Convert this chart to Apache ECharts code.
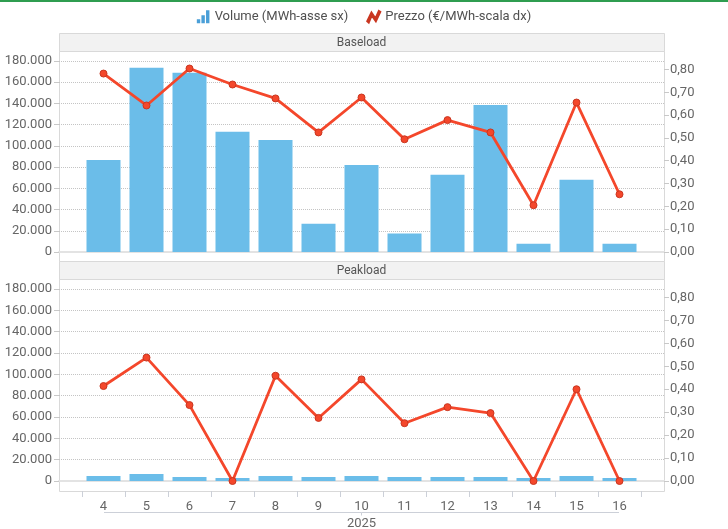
<!DOCTYPE html>
<html>
<head>
<meta charset="utf-8">
<script src="https://cdn.jsdelivr.net/npm/echarts@6/dist/echarts.min.js"></script>
<style>
html,body{margin:0;padding:0;background:#fff;}
#chart{width:728px;height:529px;}
</style>
</head>
<body>
<div id="chart"></div>
<script>
// ---- data ----
const months = ['4','5','6','7','8','9','10','11','12','13','14','15','16'];
const yearLabel = '2025';
const seriesNames = ['Volume (MWh-asse sx)', 'Prezzo (€/MWh-scala dx)'];
const panelTitles = ['Baseload', 'Peakload'];
const baseVolume = [86800, 173700, 168900, 113400, 105600, 26600, 82100, 17500, 72700, 138600, 7800, 68000, 7800];
const basePrice  = [0.782, 0.642, 0.804, 0.734, 0.673, 0.524, 0.677, 0.494, 0.578, 0.524, 0.205, 0.655, 0.253];
const peakVolume = [4700, 6600, 3800, 2800, 4700, 3800, 4700, 3800, 3800, 3800, 2800, 4700, 2800];
const peakPrice  = [0.414, 0.538, 0.331, 0, 0.459, 0.275, 0.443, 0.252, 0.322, 0.296, 0, 0.400, 0];
const volumeTicks = [0, 20000, 40000, 60000, 80000, 100000, 120000, 140000, 160000, 180000];
const priceTicks  = [0, 0.1, 0.2, 0.3, 0.4, 0.5, 0.6, 0.7, 0.8];

// ---- styles ----
const FONT = 'Roboto';
const BAR = '#6bbde9';
const RED = '#f4472b';
const LABEL = '#666666';
const BORDER = '#d9d9d9';
const PRICE_MAX = 0.837;
const VOL_MAX = 180000;

const fmtVol = v => String(Math.round(v)).replace(/\B(?=(\d{3})+(?!\d))/g, '.');
const fmtPrice = v => v.toFixed(2).replace('.', ',');

const chart = echarts.init(document.getElementById('chart'), null, {renderer: 'canvas'});

const panels = [
  {outer: {left: 59, right: 64, top: 61, bottom: 277}, inner: {left: 82, right: 87, top: 61, bottom: 277}},
  {outer: {left: 59, right: 64, top: 289, bottom: 48}, inner: {left: 82, right: 87, top: 289, bottom: 48}}
];

const grid = [];
const xAxis = [];
const yAxis = [];
panels.forEach((p, i) => {
  grid.push(Object.assign({containLabel: false, outerBoundsMode: 'none'}, p.outer));
  grid.push(Object.assign({containLabel: false, outerBoundsMode: 'none'}, p.inner));
  const go = i * 2, gi = i * 2 + 1;
  // outer x (only draws zero line)
  xAxis.push({type: 'value', gridIndex: go, min: 0, max: 1, axisLine: {show: true, lineStyle: {color: '#e3e3e3', width: 2}},
    axisTick: {show: false}, axisLabel: {show: false}, splitLine: {show: false}});
  // inner category axis
  const isBottom = i === 1;
  xAxis.push({type: 'category', gridIndex: gi, data: months, boundaryGap: true,
    show: true, offset: isBottom ? 10 : 0,
    axisLine: {show: false, onZero: false},
    axisTick: {show: isBottom, length: 6, lineStyle: {color: '#ccd0d8'}},
    axisLabel: {show: isBottom, color: LABEL, fontFamily: FONT, fontSize: 13, margin: 9},
    name: isBottom ? yearLabel : '', nameLocation: 'middle', nameGap: 26,
    nameTextStyle: {color: LABEL, fontFamily: FONT, fontSize: 13},
    splitLine: {show: false}});
  // outer y axes
  yAxis.push({type: 'value', gridIndex: go, position: 'left', min: 0, max: VOL_MAX, interval: 20000,
    axisLine: {show: false},
    axisTick: {show: true, length: 5, lineStyle: {color: '#c8c8c8'}, customValues: volumeTicks},
    axisLabel: {color: LABEL, fontFamily: FONT, fontSize: 13, margin: 7, formatter: fmtVol, customValues: volumeTicks},
    splitLine: {show: true, lineStyle: {type: [1, 1], color: '#c4c4c4', width: 1}}});
  yAxis.push({type: 'value', gridIndex: go, position: 'right', min: 0, max: PRICE_MAX,
    axisLine: {show: false},
    axisTick: {show: true, length: 5, lineStyle: {color: '#c8c8c8'}, customValues: priceTicks},
    axisLabel: {color: LABEL, fontFamily: FONT, fontSize: 13, margin: 6, formatter: fmtPrice, customValues: priceTicks},
    splitLine: {show: false}});
  // inner hidden y axes
  yAxis.push({type: 'value', gridIndex: gi, min: 0, max: VOL_MAX, show: false, splitLine: {show: false}});
  yAxis.push({type: 'value', gridIndex: gi, min: 0, max: PRICE_MAX, show: false, splitLine: {show: false}});
});

function barSeries(data, idx) {
  return {name: seriesNames[0], type: 'bar', xAxisIndex: idx * 2 + 1, yAxisIndex: idx * 4 + 2,
    data: data, barWidth: 34, itemStyle: {color: BAR}, z: 2};
}
function lineSeries(data, idx) {
  return {name: seriesNames[1], type: 'line', xAxisIndex: idx * 2 + 1, yAxisIndex: idx * 4 + 3,
    data: data, symbol: 'circle', symbolSize: 7, showSymbol: true,
    lineStyle: {color: RED, width: 2.8},
    itemStyle: {color: RED, borderColor: '#c93620', borderWidth: 1}, z: 3};
}

function panelGraphics(top, plotTop, plotBottom, title) {
  return [
    {type: 'rect', shape: {x: 59.5, y: top + 0.5, width: 605, height: plotTop - top},
      style: {fill: '#f2f2f2', stroke: BORDER, lineWidth: 1}, z: 0},
    {type: 'text', x: 361.5, y: (top + plotTop) / 2 + 1,
      style: {text: title, fill: '#555555', font: '12px ' + FONT, align: 'center', verticalAlign: 'middle'}, z: 1},
    {type: 'rect', shape: {x: 59.5, y: plotTop + 0.5, width: 605, height: plotBottom - plotTop},
      style: {fill: null, stroke: BORDER, lineWidth: 1}, z: 0}
  ];
}

const option = {
  animation: false,
  backgroundColor: '#ffffff',
  textStyle: {fontFamily: FONT},
  legend: {
    top: 5, left: 'center', itemWidth: 13, itemHeight: 13, itemGap: 18,
    textStyle: {color: '#505050', fontFamily: FONT, fontSize: 13},
    data: [
      {name: seriesNames[0], icon: 'path://M0,9h3.4v4h-3.4z M4.6,5h3.4v8h-3.4z M9.2,0h3.4v13h-3.4z', itemStyle: {color: '#4a9fd8'}},
      {name: seriesNames[1], icon: 'path://M0,11.2 L4.2,2.5 L8.2,8.6 L11.6,1 L13,1.8 L8.6,11.2 L4.5,5.4 L1.5,12.6 Z', itemStyle: {color: RED}}
    ]
  },
  grid: grid,
  xAxis: xAxis,
  yAxis: yAxis,
  series: [
    barSeries(baseVolume, 0), lineSeries(basePrice, 0),
    barSeries(peakVolume, 1), lineSeries(peakPrice, 1)
  ],
  graphic: [
    {type: 'rect', shape: {x: 0, y: 0, width: 728, height: 2}, style: {fill: '#2f9d50'}},
    ...panelGraphics(33, 51, 261, panelTitles[0]),
    ...panelGraphics(261, 279, 491, panelTitles[1]),
    {type: 'polyline', shape: {points: [[104, 512.5], [619, 512.5]]}, style: {stroke: '#ccd0d8', lineWidth: 1}},
    {type: 'line', shape: {x1: 361.5, y1: 512.5, x2: 361.5, y2: 515.5}, style: {stroke: '#ccd0d8', lineWidth: 1}}
  ]
};
chart.setOption(option);
</script>
</body>
</html>
